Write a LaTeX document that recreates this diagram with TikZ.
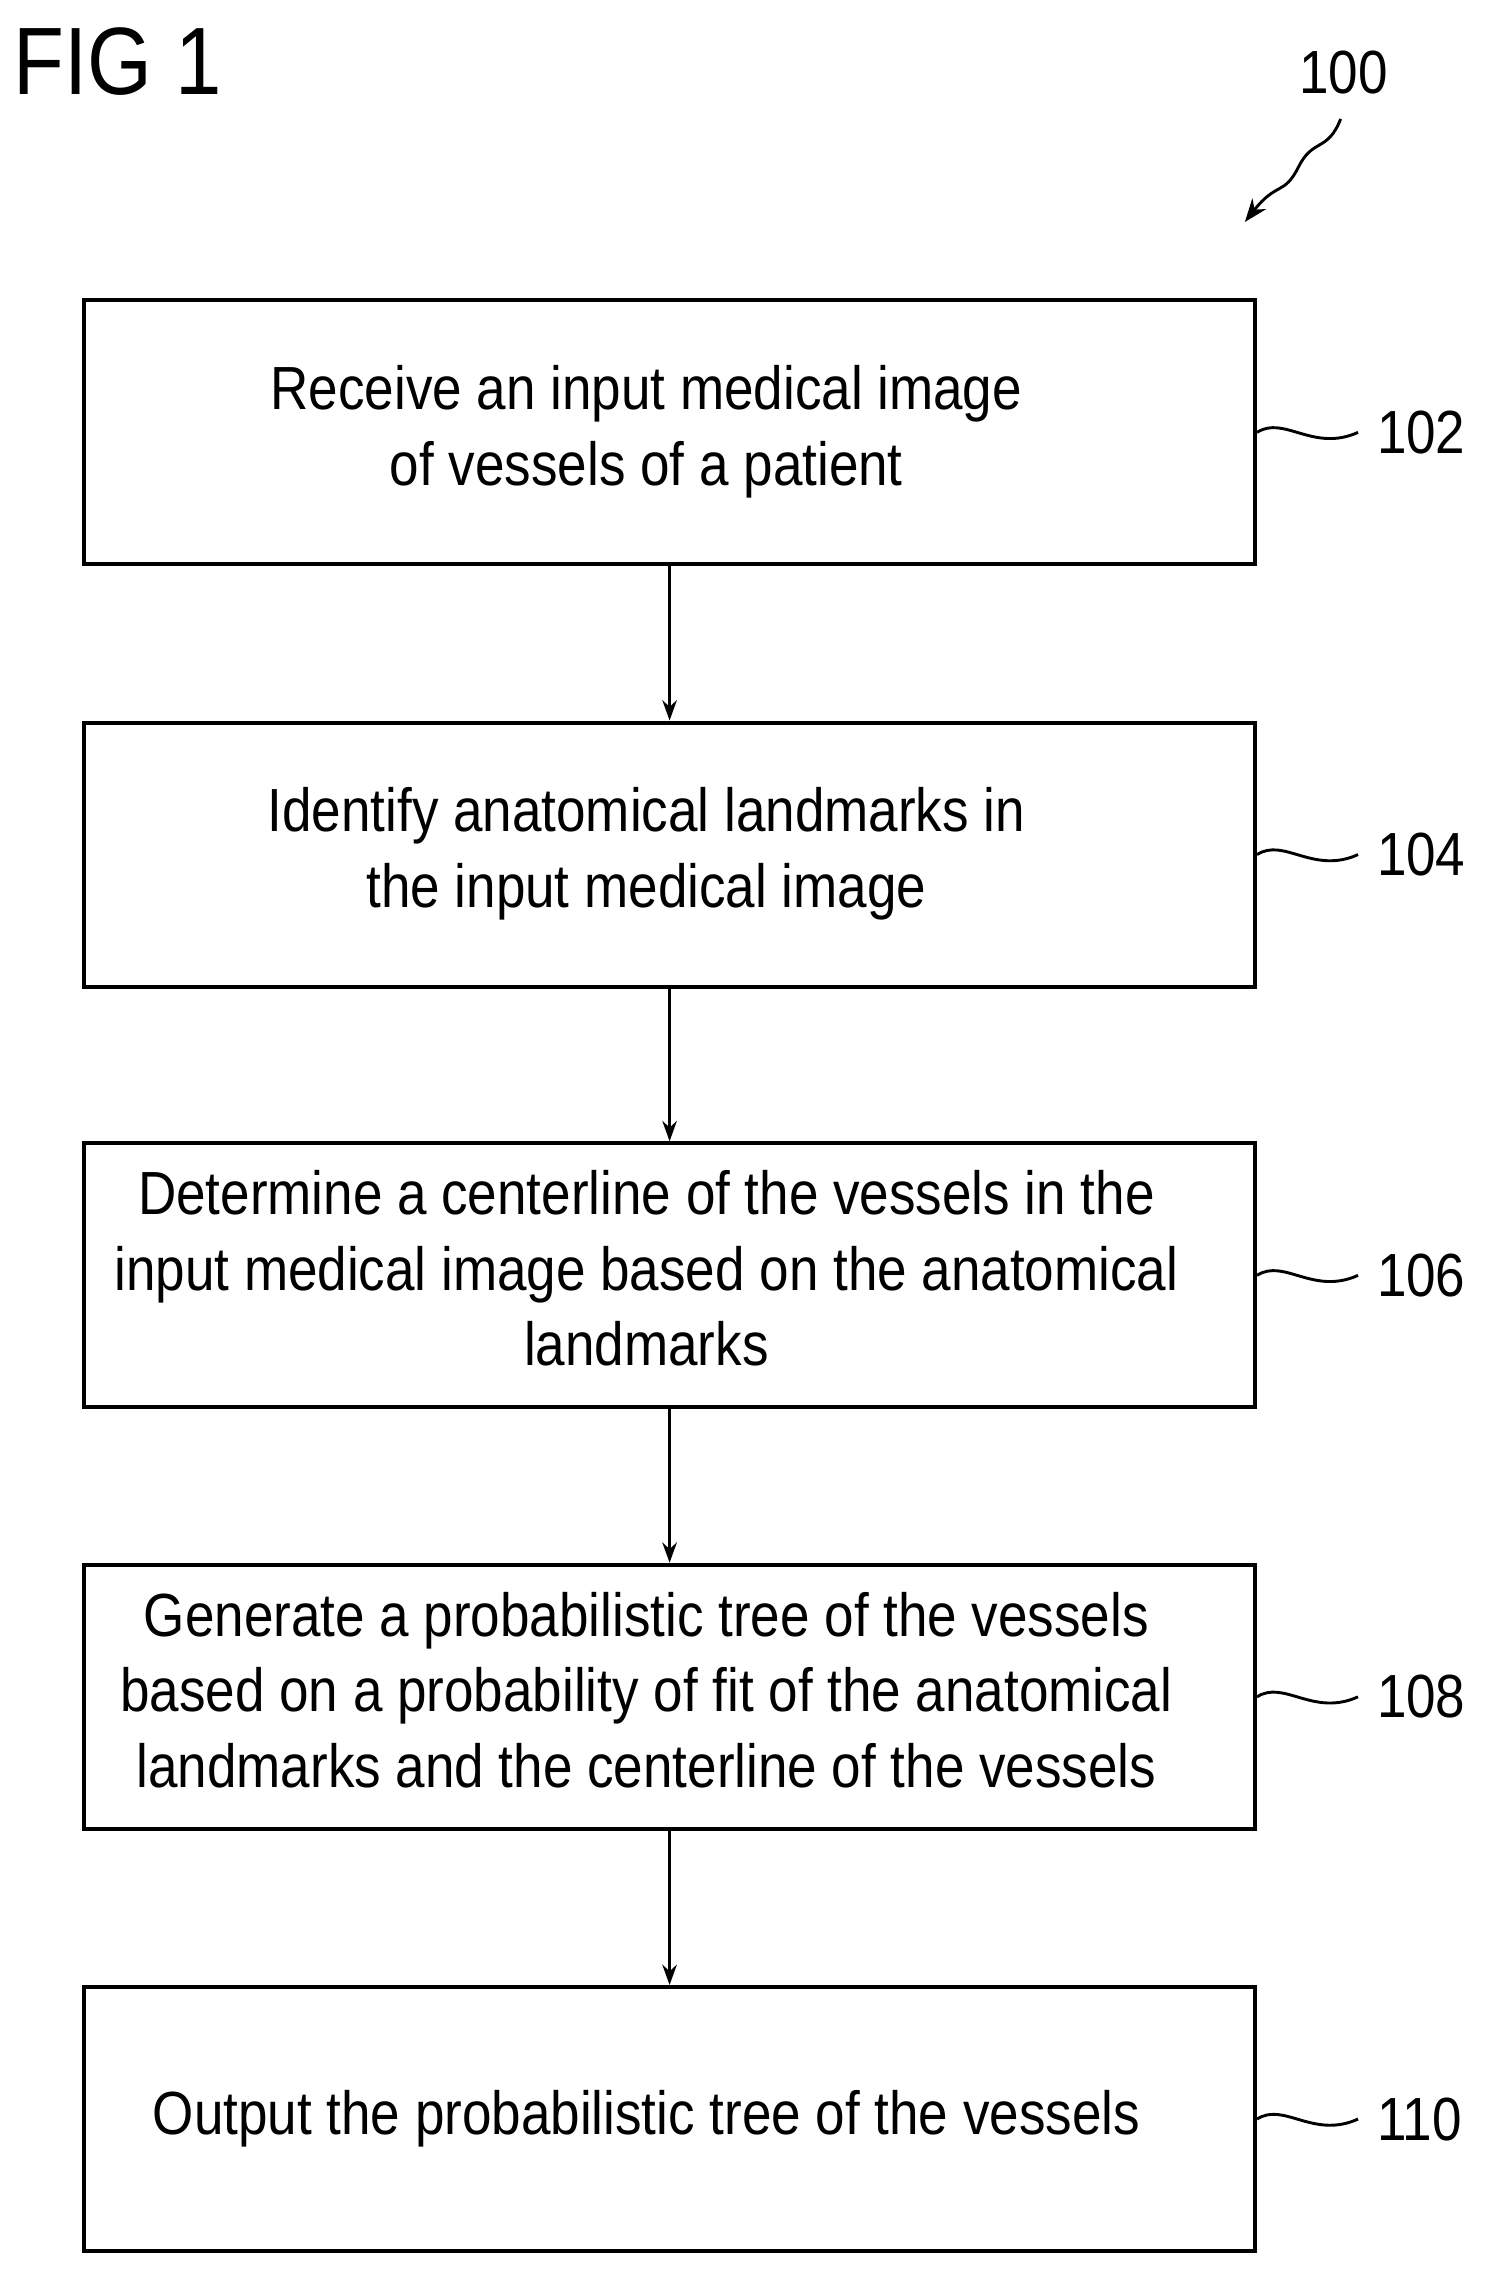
\documentclass[tikz,border=0pt]{standalone}
\usepackage{fontspec}
\setmainfont[FakeStretch=0.87]{Liberation Sans}
\usetikzlibrary{arrows.meta}
\newcommand{\bt}[1]{\begin{tabular}{@{}c@{}}#1\end{tabular}\hspace*{16pt}}
\begin{document}
\begin{tikzpicture}[x=0.5pt,y=-0.5pt,
  box/.style={draw,line width=1.4pt,minimum width=403.5pt,minimum height=91pt,align=center,font=\fontsize{21}{26}\selectfont,inner sep=2pt},
  arr/.style={line width=0.9pt,-{Stealth[length=7pt,width=5pt]}},
  lab/.style={font=\fontsize{21}{26}\selectfont,anchor=west},
  sq/.style={line width=1pt}]
\useasboundingbox (0,0) rectangle (1024,1568);
\node[anchor=north west,font=\fontsize{33}{36}\selectfont] (fig) at (2,12) {FIG 1};
\node[font=\fontsize{21}{26}\selectfont] (n100) at (926,50) {100};
\coordinate (a1) at (924,82);
\coordinate (a2) at (858,153);
\draw[line width=1pt,-{Stealth[length=8pt,width=6pt]}] (a1) .. controls (915,105) and (905,95) .. (895,115) .. controls (885,135) and (880,125) .. (a2);
\node[box] (b1) at (461.5,298) {\bt{Receive an input medical image\\of vessels of a patient}};
\node[box] (b2) at (461.5,589) {\bt{Identify anatomical landmarks in\\the input medical image}};
\node[box] (b3) at (461.5,879) {\bt{Determine a centerline of the vessels in the\\input medical image based on the anatomical\\landmarks}};
\node[box] (b4) at (461.5,1169.5) {\bt{Generate a probabilistic tree of the vessels\\based on a probability of fit of the anatomical\\landmarks and the centerline of the vessels}};
\node[box] (b5) at (461.5,1460.5) {\bt{Output the probabilistic tree of the vessels}};
\draw[arr] (b1.south) -- (b2.north);
\draw[arr] (b2.south) -- (b3.north);
\draw[arr] (b3.south) -- (b4.north);
\draw[arr] (b4.south) -- (b5.north);
\foreach \b/\t/\y in {b1/102/298,b2/104/589,b3/106/879,b4/108/1169.5,b5/110/1460.5}{
  \node[lab] (l\t) at (942,\y) {\t};
  \draw[sq] (\b.east |- 0,\y) .. controls (885,\y-12) and (905,\y+14) .. (936,\y);
}
\end{tikzpicture}
\end{document}
